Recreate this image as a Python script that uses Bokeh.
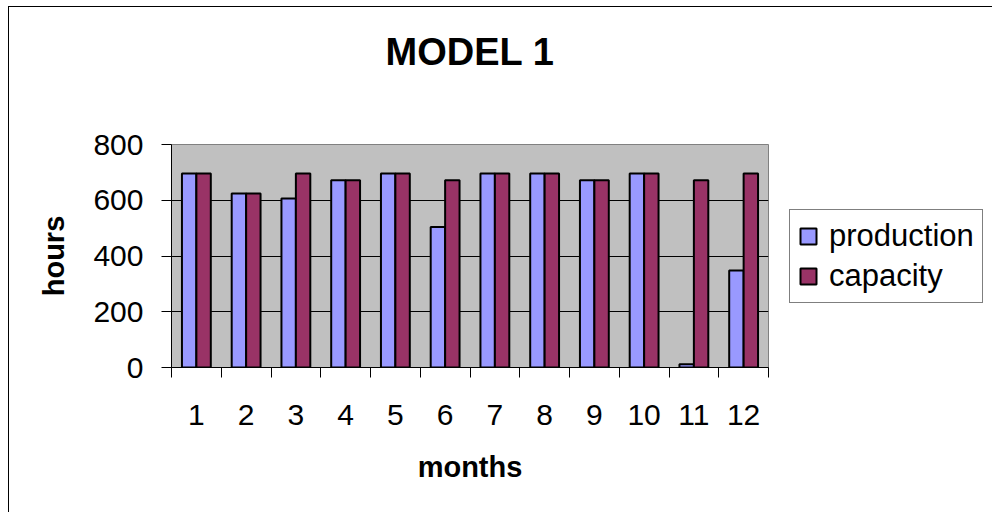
from bokeh.plotting import figure
from bokeh.models import Range1d, FixedTicker, Legend, LegendItem, ColumnDataSource, LinearAxis
from bokeh.transform import dodge
from bokeh.embed import file_html
from bokeh.resources import INLINE

# ---- data ----
months = [1, 2, 3, 4, 5, 6, 7, 8, 9, 10, 11, 12]
month_labels = ["1", "2", "3", "4", "5", "6", "7", "8", "9", "10", "11", "12"]
production = [696, 624, 606, 672, 696, 504, 696, 696, 672, 696, 12, 348]
capacity = [696, 624, 696, 672, 696, 672, 696, 696, 672, 696, 672, 696]
y_ticks = [0, 200, 400, 600, 800]
grid_values = [200, 400, 600]

FONT = "Liberation Sans"

src = ColumnDataSource(dict(month=months, production=production, capacity=capacity))

p = figure(frame_width=597, frame_height=223, output_backend="svg", toolbar_location=None,
           x_range=Range1d(0.5, 12.5), y_range=Range1d(0, 800),
           min_border_left=162, min_border_right=221, min_border_top=137,
           min_border_bottom=145)
p.styles = {"border-left": "1px solid black", "border-top": "1px solid black",
            "margin-left": "8px", "margin-top": "6px"}

p.background_fill_color = "#C0C0C0"
p.border_fill_color = "white"
p.outline_line_color = "#808080"
p.outline_line_width = 1

bw = 0.29
r1 = p.vbar(x=dodge("month", -bw / 2, range=p.x_range), top="production", width=bw,
            source=src, fill_color="#9999FF", line_color="black", line_width=2)
r2 = p.vbar(x=dodge("month", bw / 2, range=p.x_range), top="capacity", width=bw,
            source=src, fill_color="#993366", line_color="black", line_width=2)

# x axis (bottom)
xa = p.below[0]
xa.ticker = FixedTicker(ticks=months, minor_ticks=[m - 0.5 for m in months] + [12.5])
xa.major_label_overrides = {m: lab for m, lab in zip(months, month_labels)}
xa.major_tick_out = 0
xa.major_tick_in = 0
xa.minor_tick_out = 10
xa.minor_tick_in = 0
xa.minor_tick_line_color = "black"
xa.axis_line_color = "black"
xa.major_label_text_font = FONT
xa.major_label_text_font_size = "30px"
xa.major_label_text_color = "black"
xa.major_label_standoff = 27
xa.axis_label = "months"
xa.axis_label_text_font = FONT
xa.axis_label_text_font_size = "29px"
xa.axis_label_text_font_style = "bold"
xa.axis_label_text_color = "black"
xa.axis_label_standoff = 23

# y axis (left)
ya = p.left[0]
ya.ticker = FixedTicker(ticks=y_ticks, minor_ticks=[])
ya.major_tick_out = 10
ya.major_tick_in = 0
ya.major_tick_line_color = "black"
ya.minor_tick_out = 0
ya.axis_line_color = "black"
ya.major_label_text_font = FONT
ya.major_label_text_font_size = "30px"
ya.major_label_text_color = "black"
ya.major_label_standoff = 18
ya.axis_label = "hours"
ya.axis_label_text_font = FONT
ya.axis_label_text_font_size = "29px"
ya.axis_label_text_font_style = "bold"
ya.axis_label_text_color = "black"
ya.axis_label_standoff = 20

# title as label of an empty top axis (anchored to the frame)
ta = LinearAxis(ticker=FixedTicker(ticks=[], minor_ticks=[]))
ta.axis_line_color = None
ta.major_tick_out = 0
ta.major_tick_in = 0
ta.minor_tick_out = 0
ta.minor_tick_in = 0
ta.major_label_standoff = 0
ta.axis_label = "MODEL 1"
ta.axis_label_text_font = FONT
ta.axis_label_text_font_size = "38px"
ta.axis_label_text_font_style = "bold"
ta.axis_label_text_color = "black"
ta.axis_label_standoff = 72
p.add_layout(ta, "above")

p.xgrid.visible = False
p.ygrid.ticker = FixedTicker(ticks=grid_values, minor_ticks=[])
p.ygrid.grid_line_color = "black"
p.ygrid.grid_line_width = 1

legend = Legend(items=[LegendItem(label="production", renderers=[r1]),
                       LegendItem(label="capacity", renderers=[r2])],
                location=(21, 64), margin=0, padding=8, spacing=4,
                glyph_width=20, glyph_height=20, label_standoff=11,
                label_text_font=FONT, label_text_font_size="31px",
                label_text_color="black",
                border_line_color="black", border_line_width=1,
                background_fill_color="white", background_fill_alpha=1)
p.add_layout(legend, "right")

open("out.html", "w").write(file_html(p, INLINE))
